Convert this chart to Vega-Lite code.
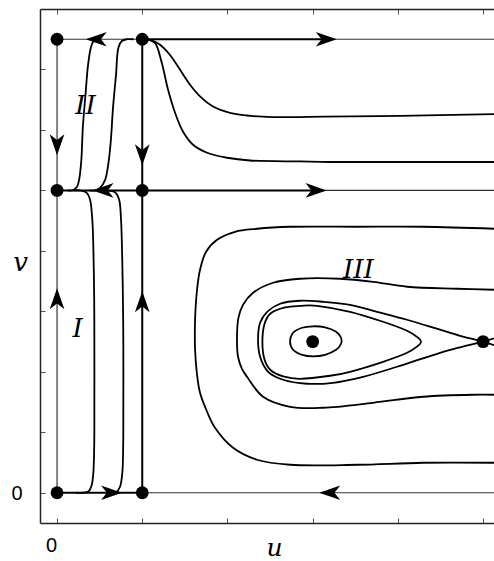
{
  "$schema": "https://vega.github.io/schema/vega-lite/v6.json",
  "width": 454,
  "height": 514,
  "autosize": {"type": "none"},
  "padding": {"left": 40, "top": 9, "right": 0, "bottom": 38},
  "background": "white",
  "config": {"view": {"stroke": null}},
  "resolve": {"axis": {"x": "independent", "y": "independent"}},
  "datasets": {
    "thinLines": [
      {"u1": 0, "v1": 0, "u2": 0, "v2": 7.5},
      {"u1": 0, "v1": 7.5, "u2": 1, "v2": 7.5},
      {"u1": 3.16, "v1": 7.5, "u2": 5.128, "v2": 7.5},
      {"u1": 3.04, "v1": 5, "u2": 5.128, "v2": 5},
      {"u1": 1, "v1": 0, "u2": 5.128, "v2": 0}
    ],
    "thickLines": [
      {"u1": 1, "v1": 0, "u2": 1, "v2": 7.5},
      {"u1": 1, "v1": 7.5, "u2": 3.16, "v2": 7.5},
      {"u1": 0, "v1": 5, "u2": 3.04, "v2": 5},
      {"u1": 0, "v1": 0, "u2": 1, "v2": 0}
    ],
    "curves": [
      {"id": "A", "i": 0, "u": 0.12, "v": 5.0},
      {"id": "A", "i": 1, "u": 0.19, "v": 5.005},
      {"id": "A", "i": 2, "u": 0.235, "v": 5.06},
      {"id": "A", "i": 3, "u": 0.262, "v": 5.2},
      {"id": "A", "i": 4, "u": 0.285, "v": 5.5},
      {"id": "A", "i": 5, "u": 0.303, "v": 6.05},
      {"id": "A", "i": 6, "u": 0.335, "v": 6.6},
      {"id": "A", "i": 7, "u": 0.362, "v": 7.05},
      {"id": "A", "i": 8, "u": 0.395, "v": 7.35},
      {"id": "A", "i": 9, "u": 0.425, "v": 7.46},
      {"id": "A", "i": 10, "u": 0.48, "v": 7.5},

      {"id": "B", "i": 0, "u": 0.9, "v": 7.5},
      {"id": "B", "i": 1, "u": 0.82, "v": 7.5},
      {"id": "B", "i": 2, "u": 0.76, "v": 7.47},
      {"id": "B", "i": 3, "u": 0.72, "v": 7.36},
      {"id": "B", "i": 4, "u": 0.692, "v": 6.91},
      {"id": "B", "i": 5, "u": 0.657, "v": 6.37},
      {"id": "B", "i": 6, "u": 0.63, "v": 5.8},
      {"id": "B", "i": 7, "u": 0.6, "v": 5.42},
      {"id": "B", "i": 8, "u": 0.563, "v": 5.17},
      {"id": "B", "i": 9, "u": 0.505, "v": 5.04},
      {"id": "B", "i": 10, "u": 0.446, "v": 5.0},
      {"id": "B", "i": 11, "u": 0.38, "v": 5.0},

      {"id": "C", "i": 0, "u": 0.2, "v": 5.0},
      {"id": "C", "i": 1, "u": 0.27, "v": 5.0},
      {"id": "C", "i": 2, "u": 0.349, "v": 4.96},
      {"id": "C", "i": 3, "u": 0.387, "v": 4.85},
      {"id": "C", "i": 4, "u": 0.414, "v": 4.51},
      {"id": "C", "i": 5, "u": 0.426, "v": 4.07},
      {"id": "C", "i": 6, "u": 0.436, "v": 3.2},
      {"id": "C", "i": 7, "u": 0.438, "v": 2.41},
      {"id": "C", "i": 8, "u": 0.438, "v": 1.5},
      {"id": "C", "i": 9, "u": 0.436, "v": 0.76},
      {"id": "C", "i": 10, "u": 0.426, "v": 0.33},
      {"id": "C", "i": 11, "u": 0.407, "v": 0.13},
      {"id": "C", "i": 12, "u": 0.367, "v": 0.02},
      {"id": "C", "i": 13, "u": 0.309, "v": 0.0},
      {"id": "C", "i": 14, "u": 0.22, "v": 0.0},

      {"id": "D", "i": 0, "u": 0.5, "v": 5.0},
      {"id": "D", "i": 1, "u": 0.583, "v": 5.0},
      {"id": "D", "i": 2, "u": 0.681, "v": 4.97},
      {"id": "D", "i": 3, "u": 0.728, "v": 4.85},
      {"id": "D", "i": 4, "u": 0.751, "v": 4.51},
      {"id": "D", "i": 5, "u": 0.766, "v": 3.8},
      {"id": "D", "i": 6, "u": 0.775, "v": 3.0},
      {"id": "D", "i": 7, "u": 0.778, "v": 2.41},
      {"id": "D", "i": 8, "u": 0.778, "v": 1.5},
      {"id": "D", "i": 9, "u": 0.776, "v": 0.76},
      {"id": "D", "i": 10, "u": 0.766, "v": 0.33},
      {"id": "D", "i": 11, "u": 0.739, "v": 0.1},
      {"id": "D", "i": 12, "u": 0.692, "v": 0.005},
      {"id": "D", "i": 13, "u": 0.642, "v": 0.0},
      {"id": "D", "i": 14, "u": 0.58, "v": 0.0},

      {"id": "E", "i": 0, "u": 1.0, "v": 7.5},
      {"id": "E", "i": 1, "u": 1.092, "v": 7.49},
      {"id": "E", "i": 2, "u": 1.209, "v": 7.41},
      {"id": "E", "i": 3, "u": 1.326, "v": 7.24},
      {"id": "E", "i": 4, "u": 1.444, "v": 6.995},
      {"id": "E", "i": 5, "u": 1.561, "v": 6.747},
      {"id": "E", "i": 6, "u": 1.678, "v": 6.554},
      {"id": "E", "i": 7, "u": 1.831, "v": 6.388},
      {"id": "E", "i": 8, "u": 2.03, "v": 6.284},
      {"id": "E", "i": 9, "u": 2.265, "v": 6.234},
      {"id": "E", "i": 10, "u": 2.535, "v": 6.213},
      {"id": "E", "i": 11, "u": 2.852, "v": 6.213},
      {"id": "E", "i": 12, "u": 3.134, "v": 6.22},
      {"id": "E", "i": 13, "u": 4.026, "v": 6.234},
      {"id": "E", "i": 14, "u": 5.128, "v": 6.26},

      {"id": "F", "i": 0, "u": 1.0, "v": 7.5},
      {"id": "F", "i": 1, "u": 1.08, "v": 7.49},
      {"id": "F", "i": 2, "u": 1.15, "v": 7.44},
      {"id": "F", "i": 3, "u": 1.229, "v": 7.11},
      {"id": "F", "i": 4, "u": 1.303, "v": 6.664},
      {"id": "F", "i": 5, "u": 1.385, "v": 6.284},
      {"id": "F", "i": 6, "u": 1.479, "v": 5.97},
      {"id": "F", "i": 7, "u": 1.596, "v": 5.755},
      {"id": "F", "i": 8, "u": 1.761, "v": 5.623},
      {"id": "F", "i": 9, "u": 1.995, "v": 5.54},
      {"id": "F", "i": 10, "u": 2.265, "v": 5.495},
      {"id": "F", "i": 11, "u": 2.852, "v": 5.479},
      {"id": "F", "i": 12, "u": 3.2, "v": 5.47},
      {"id": "F", "i": 13, "u": 4.03, "v": 5.47},
      {"id": "F", "i": 14, "u": 5.128, "v": 5.47},

      {"id": "M", "i": 0, "u": 5.128, "v": 3.357},
      {"id": "M", "i": 1, "u": 4.695, "v": 3.374},
      {"id": "M", "i": 2, "u": 4.108, "v": 3.407},
      {"id": "M", "i": 3, "u": 3.709, "v": 3.489},
      {"id": "M", "i": 4, "u": 3.322, "v": 3.539},
      {"id": "M", "i": 5, "u": 2.852, "v": 3.539},
      {"id": "M", "i": 6, "u": 2.535, "v": 3.473},
      {"id": "M", "i": 7, "u": 2.3, "v": 3.307},
      {"id": "M", "i": 8, "u": 2.183, "v": 3.109},
      {"id": "M", "i": 9, "u": 2.13, "v": 2.9},
      {"id": "M", "i": 10, "u": 2.113, "v": 2.646},
      {"id": "M", "i": 11, "u": 2.124, "v": 2.249},
      {"id": "M", "i": 12, "u": 2.17, "v": 2.05},
      {"id": "M", "i": 13, "u": 2.23, "v": 1.918},
      {"id": "M", "i": 14, "u": 2.418, "v": 1.588},
      {"id": "M", "i": 15, "u": 2.735, "v": 1.422},
      {"id": "M", "i": 16, "u": 3.122, "v": 1.406},
      {"id": "M", "i": 17, "u": 3.709, "v": 1.488},
      {"id": "M", "i": 18, "u": 4.296, "v": 1.588},
      {"id": "M", "i": 19, "u": 4.883, "v": 1.621},
      {"id": "M", "i": 20, "u": 5.128, "v": 1.621},

      {"id": "O", "i": 0, "u": 5.128, "v": 4.366},
      {"id": "O", "i": 1, "u": 4.296, "v": 4.399},
      {"id": "O", "i": 2, "u": 3.521, "v": 4.399},
      {"id": "O", "i": 3, "u": 2.735, "v": 4.399},
      {"id": "O", "i": 4, "u": 2.347, "v": 4.366},
      {"id": "O", "i": 5, "u": 2.089, "v": 4.316},
      {"id": "O", "i": 6, "u": 1.878, "v": 4.184},
      {"id": "O", "i": 7, "u": 1.749, "v": 3.986},
      {"id": "O", "i": 8, "u": 1.678, "v": 3.688},
      {"id": "O", "i": 9, "u": 1.643, "v": 3.357},
      {"id": "O", "i": 10, "u": 1.62, "v": 2.861},
      {"id": "O", "i": 11, "u": 1.62, "v": 2.365},
      {"id": "O", "i": 12, "u": 1.643, "v": 1.951},
      {"id": "O", "i": 13, "u": 1.678, "v": 1.654},
      {"id": "O", "i": 14, "u": 1.761, "v": 1.34},
      {"id": "O", "i": 15, "u": 1.854, "v": 1.075},
      {"id": "O", "i": 16, "u": 2.066, "v": 0.744},
      {"id": "O", "i": 17, "u": 2.347, "v": 0.546},
      {"id": "O", "i": 18, "u": 2.735, "v": 0.463},
      {"id": "O", "i": 19, "u": 3.521, "v": 0.463},
      {"id": "O", "i": 20, "u": 4.296, "v": 0.496},
      {"id": "O", "i": 21, "u": 5.128, "v": 0.496},

      {"id": "H", "i": 0, "u": 5.128, "v": 2.439},
      {"id": "H", "i": 1, "u": 5.0, "v": 2.5},
      {"id": "H", "i": 2, "u": 4.73, "v": 2.596},
      {"id": "H", "i": 3, "u": 4.495, "v": 2.696},
      {"id": "H", "i": 4, "u": 4.108, "v": 2.861},
      {"id": "H", "i": 5, "u": 3.756, "v": 2.993},
      {"id": "H", "i": 6, "u": 3.439, "v": 3.109},
      {"id": "H", "i": 7, "u": 3.122, "v": 3.159},
      {"id": "H", "i": 8, "u": 2.852, "v": 3.175},
      {"id": "H", "i": 9, "u": 2.617, "v": 3.126},
      {"id": "H", "i": 10, "u": 2.465, "v": 2.993},
      {"id": "H", "i": 11, "u": 2.383, "v": 2.811},
      {"id": "H", "i": 12, "u": 2.359, "v": 2.53},
      {"id": "H", "i": 13, "u": 2.383, "v": 2.249},
      {"id": "H", "i": 14, "u": 2.477, "v": 2.001},
      {"id": "H", "i": 15, "u": 2.653, "v": 1.869},
      {"id": "H", "i": 16, "u": 2.934, "v": 1.803},
      {"id": "H", "i": 17, "u": 3.239, "v": 1.819},
      {"id": "H", "i": 18, "u": 3.592, "v": 1.918},
      {"id": "H", "i": 19, "u": 3.991, "v": 2.084},
      {"id": "H", "i": 20, "u": 4.495, "v": 2.315},
      {"id": "H", "i": 21, "u": 4.73, "v": 2.406},
      {"id": "H", "i": 22, "u": 5.0, "v": 2.5},
      {"id": "H", "i": 23, "u": 5.128, "v": 2.555}
    ],
    "loops": [
      {"id": "P", "i": 0, "u": 2.41, "v": 2.497},
      {"id": "P", "i": 1, "u": 2.432, "v": 2.78},
      {"id": "P", "i": 2, "u": 2.505, "v": 2.965},
      {"id": "P", "i": 3, "u": 2.676, "v": 3.065},
      {"id": "P", "i": 4, "u": 2.852, "v": 3.09},
      {"id": "P", "i": 5, "u": 3.052, "v": 3.092},
      {"id": "P", "i": 6, "u": 3.439, "v": 2.993},
      {"id": "P", "i": 7, "u": 3.826, "v": 2.828},
      {"id": "P", "i": 8, "u": 4.108, "v": 2.679},
      {"id": "P", "i": 9, "u": 4.237, "v": 2.563},
      {"id": "P", "i": 10, "u": 4.272, "v": 2.497},
      {"id": "P", "i": 11, "u": 4.237, "v": 2.431},
      {"id": "P", "i": 12, "u": 4.108, "v": 2.315},
      {"id": "P", "i": 13, "u": 3.826, "v": 2.166},
      {"id": "P", "i": 14, "u": 3.439, "v": 2.001},
      {"id": "P", "i": 15, "u": 3.204, "v": 1.935},
      {"id": "P", "i": 16, "u": 2.852, "v": 1.885},
      {"id": "P", "i": 17, "u": 2.653, "v": 1.925},
      {"id": "P", "i": 18, "u": 2.505, "v": 2.03},
      {"id": "P", "i": 19, "u": 2.432, "v": 2.216},

      {"id": "S", "i": 0, "u": 2.735, "v": 2.497},
      {"id": "S", "i": 1, "u": 2.77, "v": 2.646},
      {"id": "S", "i": 2, "u": 2.876, "v": 2.729},
      {"id": "S", "i": 3, "u": 3.005, "v": 2.753},
      {"id": "S", "i": 4, "u": 3.146, "v": 2.737},
      {"id": "S", "i": 5, "u": 3.275, "v": 2.663},
      {"id": "S", "i": 6, "u": 3.333, "v": 2.563},
      {"id": "S", "i": 7, "u": 3.333, "v": 2.464},
      {"id": "S", "i": 8, "u": 3.275, "v": 2.365},
      {"id": "S", "i": 9, "u": 3.146, "v": 2.282},
      {"id": "S", "i": 10, "u": 3.005, "v": 2.257},
      {"id": "S", "i": 11, "u": 2.876, "v": 2.282},
      {"id": "S", "i": 12, "u": 2.77, "v": 2.365}
    ],
    "arrows": [
      {"u": 0.46, "v": 7.5, "dir": "left"},
      {"u": 3.16, "v": 7.5, "dir": "right"},
      {"u": 0.54, "v": 5, "dir": "left"},
      {"u": 3.04, "v": 5, "dir": "right"},
      {"u": 0.64, "v": 0, "dir": "right"},
      {"u": 3.2, "v": 0, "dir": "left"},
      {"u": 0, "v": 5.755, "dir": "down"},
      {"u": 1, "v": 5.59, "dir": "down"},
      {"u": 0, "v": 3.21, "dir": "up"},
      {"u": 1, "v": 3.16, "dir": "up"}
    ],
    "fixedPoints": [
      {"u": 0, "v": 0}, {"u": 1, "v": 0},
      {"u": 0, "v": 5}, {"u": 1, "v": 5},
      {"u": 0, "v": 7.5}, {"u": 1, "v": 7.5},
      {"u": 3, "v": 2.5}, {"u": 5, "v": 2.5}
    ],
    "regions": [
      {"u": 0.335, "v": 6.39, "label": "II"},
      {"u": 0.241, "v": 2.7, "label": "I"},
      {"u": 3.536, "v": 3.683, "label": "III"}
    ]
  },
  "layer": [
    {
      "data": {"name": "thinLines"},
      "mark": {"type": "rule", "color": "#333333", "strokeWidth": 1.2, "clip": true},
      "encoding": {
        "x": {"field": "u1", "type": "quantitative",
          "scale": {"domain": [-0.2, 5.128], "nice": false, "zero": false},
          "axis": {"orient": "bottom", "values": [0, 1, 2, 3, 4, 5], "grid": false,
            "tickSize": -5, "tickColor": "#555555", "tickWidth": 1,
            "domainColor": "#222222", "domainWidth": 1.5,
            "labelExpr": "datum.value === 0 ? '0' : ''",
            "labelFont": "Liberation Sans", "labelFontSize": 20, "labelColor": "black",
            "labelPadding": 17, "labelOffset": -6, "labelBaseline": "top",
            "title": "u", "titleFont": "DejaVu Serif", "titleFontStyle": "italic",
            "titleFontWeight": "normal", "titleFontSize": 25, "titleColor": "black",
            "titleX": 234, "titleY": 32, "titleAlign": "center", "titleBaseline": "alphabetic"}},
        "x2": {"field": "u2"},
        "y": {"field": "v1", "type": "quantitative",
          "scale": {"domain": [-0.5, 8], "nice": false, "zero": false},
          "axis": {"orient": "left", "values": [0, 1, 2, 3, 4, 5, 6, 7], "grid": false,
            "tickSize": -5, "tickColor": "#555555", "tickWidth": 1,
            "domainColor": "#222222", "domainWidth": 1.5,
            "labelExpr": "datum.value === 0 ? '0' : ''",
            "labelFont": "Liberation Sans", "labelFontSize": 20, "labelColor": "black",
            "labelPadding": 23, "labelBaseline": "middle", "labelOffset": 1,
            "title": "v", "titleFont": "DejaVu Serif", "titleFontStyle": "italic",
            "titleFontWeight": "normal", "titleFontSize": 26, "titleColor": "black",
            "titleAngle": 0, "titleX": -20, "titleY": 261, "titleAlign": "center", "titleBaseline": "alphabetic"}},
        "y2": {"field": "v2"}
      }
    },
    {
      "data": {"name": "thickLines"},
      "mark": {"type": "rule", "color": "black", "strokeWidth": 2, "clip": true},
      "encoding": {
        "x": {"field": "u1", "type": "quantitative", "scale": {"domain": [-0.2, 5.128], "nice": false, "zero": false}, "axis": null},
        "x2": {"field": "u2"},
        "y": {"field": "v1", "type": "quantitative", "scale": {"domain": [-0.5, 8], "nice": false, "zero": false}, "axis": null},
        "y2": {"field": "v2"}
      }
    },
    {
      "data": {"name": "curves"},
      "mark": {"type": "line", "color": "black", "strokeWidth": 1.8, "interpolate": "catmull-rom", "clip": true},
      "encoding": {
        "x": {"field": "u", "type": "quantitative", "scale": {"domain": [-0.2, 5.128], "nice": false, "zero": false}, "axis": null},
        "y": {"field": "v", "type": "quantitative", "scale": {"domain": [-0.5, 8], "nice": false, "zero": false}, "axis": null},
        "detail": {"field": "id", "type": "nominal"},
        "order": {"field": "i", "type": "quantitative"}
      }
    },
    {
      "data": {"name": "loops"},
      "mark": {"type": "line", "color": "black", "strokeWidth": 1.8, "interpolate": "cardinal-closed", "tension": 0, "clip": true},
      "encoding": {
        "x": {"field": "u", "type": "quantitative", "scale": {"domain": [-0.2, 5.128], "nice": false, "zero": false}, "axis": null},
        "y": {"field": "v", "type": "quantitative", "scale": {"domain": [-0.5, 8], "nice": false, "zero": false}, "axis": null},
        "detail": {"field": "id", "type": "nominal"},
        "order": {"field": "i", "type": "quantitative"}
      }
    },
    {
      "data": {"name": "arrows"},
      "mark": {"type": "point", "filled": true, "color": "black", "opacity": 1, "size": 441, "strokeWidth": 0},
      "encoding": {
        "x": {"field": "u", "type": "quantitative", "scale": {"domain": [-0.2, 5.128], "nice": false, "zero": false}, "axis": null},
        "y": {"field": "v", "type": "quantitative", "scale": {"domain": [-0.5, 8], "nice": false, "zero": false}, "axis": null},
        "shape": {"field": "dir", "type": "nominal", "legend": null,
          "scale": {"domain": ["right", "left", "up", "down"],
            "range": ["M1,0L-1,-0.7L-0.45,0L-1,0.7Z", "M-1,0L1,-0.7L0.45,0L1,0.7Z", "M0,-1L-0.7,1L0,0.45L0.7,1Z", "M0,1L-0.7,-1L0,-0.45L0.7,-1Z"]}}
      }
    },
    {
      "data": {"name": "fixedPoints"},
      "mark": {"type": "point", "shape": "circle", "filled": true, "color": "black", "opacity": 1, "size": 165},
      "encoding": {
        "x": {"field": "u", "type": "quantitative", "scale": {"domain": [-0.2, 5.128], "nice": false, "zero": false},
          "axis": {"orient": "top", "values": [0, 1, 2, 3, 4, 5], "grid": false, "labels": false, "title": null,
            "tickSize": -5, "tickColor": "#555555", "tickWidth": 1,
            "domainColor": "#222222", "domainWidth": 1.5}},
        "y": {"field": "v", "type": "quantitative", "scale": {"domain": [-0.5, 8], "nice": false, "zero": false}, "axis": null}
      }
    },
    {
      "data": {"name": "regions"},
      "mark": {"type": "text", "font": "DejaVu Serif", "fontStyle": "italic", "fontSize": 26, "color": "black", "align": "center", "baseline": "middle"},
      "encoding": {
        "x": {"field": "u", "type": "quantitative", "scale": {"domain": [-0.2, 5.128], "nice": false, "zero": false}, "axis": null},
        "y": {"field": "v", "type": "quantitative", "scale": {"domain": [-0.5, 8], "nice": false, "zero": false}, "axis": null},
        "text": {"field": "label"}
      }
    }
  ]
}
